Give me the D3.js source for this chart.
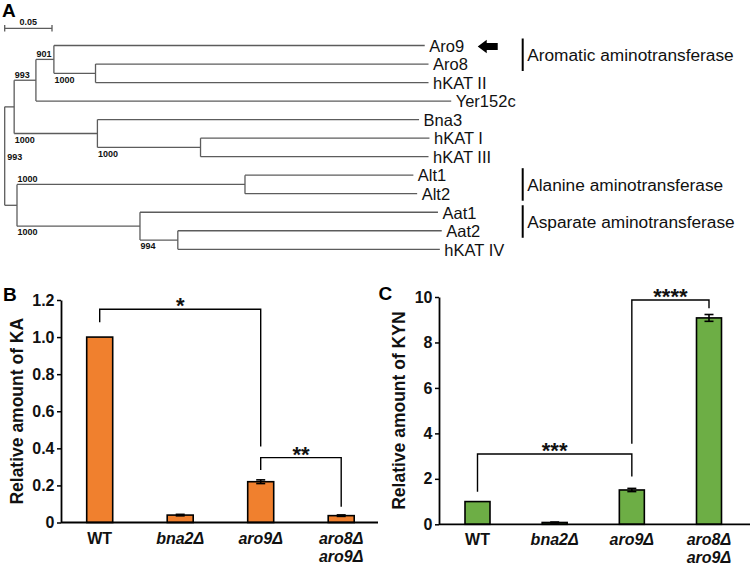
<!DOCTYPE html>
<html><head><meta charset="utf-8">
<script src="https://cdn.jsdelivr.net/npm/d3@7"></script>
<style>
body{margin:0;background:#fff}
svg{display:block}
text{font-family:"Liberation Sans",Arial,Helvetica,sans-serif}
</style>
</head><body>
<svg id="chart" width="750" height="565"></svg>
<script>
// ---------- Panel A: phylogenetic tree ----------
const treeIds     = ['root','n0','n1','n2','Aro9','n3','Aro8','hKAT II','Yer152c','n4','Bna3','n6','hKAT I','hKAT III','n5','n7','Alt1','Alt2','n8','Aat1','n9','Aat2','hKAT IV'];
const treeParents = ['',    'root','n0','n1','n2','n2','n3','n3','n1','n0','n4','n4','n6','n6','root','n5','n7','n7','n5','n8','n8','n9','n9'];
const branchLens  = [0, 0.010, 0.023, 0.019, 0.392, 0.044, 0.352, 0.352, 0.439, 0.088, 0.340, 0.109, 0.242, 0.241, 0.013, 0.241, 0.178, 0.182, 0.130, 0.315, 0.040, 0.279, 0.277];
const bootstraps  = ['993','', '993','901','', '1000','','','', '1000','', '1000','','','', '1000','','', '1000','', '994','',''];
const leafOrder   = ['Aro9','Aro8','hKAT II','Yer152c','Bna3','hKAT I','hKAT III','Alt1','Alt2','Aat1','Aat2','hKAT IV'];
const groupNames  = ['Aromatic aminotransferase','Alanine aminotransferase','Asparate aminotransferase'];
const groupFirst  = ['Aro9','Alt1','Aat1'];
const groupLast   = ['Aro8','Alt2','Aat2'];
const scaleBarLen = 0.05;

// ---------- Panels B & C: bar charts ----------
const strains   = ['WT','bna2Δ','aro9Δ','aro8Δ aro9Δ'];
const kaValues  = [1.0, 0.040, 0.220, 0.037];
const kaErrors  = [0, 0.004, 0.010, 0.004];
const kaTicks   = [0, 0.2, 0.4, 0.6, 0.8, 1.0, 1.2];
const kynValues = [1.0, 0.08, 1.51, 9.08];
const kynErrors = [0, 0.02, 0.07, 0.15];
const kynTicks  = [0, 2, 4, 6, 8, 10];
const kaSigFrom = ['WT','aro9Δ'],   kaSigTo = ['aro9Δ','aro8Δ aro9Δ'],   kaSigLabel = ['*','**'];
const kaSigTop  = [1.15, 0.35],     kaSigLeft = [1.08, 0.283],            kaSigRight = [0.41, 0.085];
const kynSigFrom = ['WT','aro9Δ'],  kynSigTo = ['aro9Δ','aro8Δ aro9Δ'],  kynSigLabel = ['***','****'];
const kynSigTop  = [3.09, 9.87],    kynSigLeft = [1.43, 3.54],            kynSigRight = [2.1, 9.5];

const svg = d3.select('#chart');

// ===== Tree =====
const treeRows = treeIds.map((id,i)=>({id, parent: treeParents[i]||null, len: branchLens[i], boot: bootstraps[i]}));
const root = d3.stratify().id(d=>d.id).parentId(d=>d.parent)(treeRows);
root.eachBefore(n => { n.dist = (n.parent ? n.parent.dist : 0) + n.data.len; });
const xT = d3.scaleLinear().domain([0, 0.5]).range([4.7, 4.7 + 473]);
const yLeaf = d3.scalePoint().domain(leafOrder).range([45.5, 249.3]);
root.eachAfter(n => {
  n.y = n.children ? (n.children[0].y + n.children[n.children.length-1].y)/2 : yLeaf(n.id);
  n.x = xT(n.dist);
});
const tree = svg.append('g');
const lineCol = '#5c5c5c';
tree.selectAll('line.h').data(root.descendants().filter(n=>n.parent)).join('line')
  .attr('x1', n=>n.parent.x).attr('x2', n=>n.x).attr('y1', n=>n.y).attr('y2', n=>n.y)
  .attr('stroke', lineCol).attr('stroke-width', 1.3);
tree.selectAll('line.v').data(root.descendants().filter(n=>n.children)).join('line')
  .attr('x1', n=>n.x).attr('x2', n=>n.x)
  .attr('y1', n=>n.children[0].y).attr('y2', n=>n.children[n.children.length-1].y)
  .attr('stroke', lineCol).attr('stroke-width', 1.3);
tree.selectAll('text.leaf').data(root.leaves()).join('text')
  .attr('x', n=>n.x + 4.5).attr('y', n=>n.y).attr('dy','0.38em')
  .attr('font-size', 16.5).attr('fill','#111').text(n=>n.id);
const bootNodes = root.descendants().filter(n=>n.data.boot);
tree.selectAll('text.boot').data(bootNodes).join('text')
  .attr('x', n => n.parent ? n.parent.x + 0.5 : n.x + 2.6)
  .attr('y', n => {
    if (!n.parent) return n.y + 1;
    const first = n.parent.children[0] === n;
    return first ? n.y - 5.5 : n.y + 6.2;
  })
  .attr('dy','0.35em').attr('font-size', 9).attr('font-weight','bold').attr('fill','#111')
  .text(n=>n.data.boot);
const sb = tree.append('g');
const sbY = 28.3;
sb.append('line').attr('x1', xT(0)).attr('x2', xT(scaleBarLen)).attr('y1', sbY).attr('y2', sbY).attr('stroke', lineCol).attr('stroke-width',1.3);
[0, scaleBarLen].forEach(v => sb.append('line').attr('x1', xT(v)).attr('x2', xT(v)).attr('y1', sbY-3.3).attr('y2', sbY+3.3).attr('stroke', lineCol).attr('stroke-width',1.3));
sb.append('text').attr('x', (xT(0)+xT(scaleBarLen))/2).attr('y', 25).attr('text-anchor','middle')
  .attr('font-size', 9).attr('font-weight','bold').attr('fill','#111').text(String(scaleBarLen));
const aro9 = root.leaves().find(n=>n.id==='Aro9');
const ax = aro9.x + 53, ay = aro9.y + 1;
tree.append('path')
  .attr('d', `M${ax},${ay} L${ax+9},${ay-6.7} L${ax+9},${ay-3.5} L${ax+20},${ay-3.5} L${ax+20},${ay+3.5} L${ax+9},${ay+3.5} L${ax+9},${ay+6.7} Z`)
  .attr('fill','#000');
const gx = 522.7;
groupNames.forEach((g,i)=>{
  const y1 = yLeaf(groupFirst[i]) - 7, y2 = yLeaf(groupLast[i]) + 7;
  tree.append('line').attr('x1',gx).attr('x2',gx).attr('y1',y1).attr('y2',y2).attr('stroke','#000').attr('stroke-width',2);
  tree.append('text').attr('x', gx+4.5).attr('y',(y1+y2)/2).attr('dy','0.36em')
    .attr('font-size',17.3).attr('fill','#111').text(g);
});
svg.append('text').attr('x',2).attr('y',16.7).attr('font-size',19).attr('font-weight','bold').text('A');

// ===== Bar charts =====
function barPanel(opts){
  const g = svg.append('g');
  const {x, y, values, errors, ticks, fmt, color, barW, axisX, axisRight, title, titleX,
         sigFrom, sigTo, sigLabel, sigTop, sigLeft, sigRight, letter, letterX, letterY} = opts;
  g.selectAll('rect.bar').data(strains).join('rect')
    .attr('x', (d)=>x(d)-barW/2).attr('width', barW)
    .attr('y', (d,i)=>y(values[i])).attr('height', (d,i)=>y(0)-y(values[i]))
    .attr('fill', color).attr('stroke','#000').attr('stroke-width',1.6);
  strains.forEach((d,i)=>{
    if (!errors[i]) return;
    const cx = x(d), t = y(values[i]+errors[i]), b = y(values[i]-errors[i]);
    g.append('line').attr('x1',cx).attr('x2',cx).attr('y1',t).attr('y2',b).attr('stroke','#000').attr('stroke-width',1.6);
    [t,b].forEach(yy=>g.append('line').attr('x1',cx-4.5).attr('x2',cx+4.5).attr('y1',yy).attr('y2',yy).attr('stroke','#000').attr('stroke-width',1.6));
  });
  const ax = g.append('g').attr('transform',`translate(${axisX},0)`)
    .call(d3.axisLeft(y).tickValues(ticks).tickFormat(fmt).tickSize(4).tickSizeOuter(0).tickPadding(2.5));
  ax.select('.domain').attr('stroke','#000').attr('stroke-width',1.8);
  ax.selectAll('.tick line').attr('stroke','#000').attr('stroke-width',1.5);
  ax.selectAll('.tick text').attr('font-size',16).attr('font-weight','bold').attr('fill','#111')
    .attr('font-family','"Liberation Sans",Arial,sans-serif');
  g.append('line').attr('x1',axisX).attr('x2',axisRight).attr('y1',y(0)).attr('y2',y(0)).attr('stroke','#000').attr('stroke-width',1.8);
  strains.forEach(d=>{
    const parts = d.split(' ');
    const t = g.append('text').attr('x',x(d)).attr('y',y(0)+21).attr('text-anchor','middle')
      .attr('font-size',16).attr('font-weight','bold').attr('fill','#111')
      .attr('font-style', d==='WT' ? 'normal' : 'italic');
    parts.forEach((p,j)=>t.append('tspan').attr('x',x(d)).attr('dy', j ? 18 : 0).text(p));
  });
  g.append('text').attr('transform',`translate(${titleX},${(y(0)+y(ticks[ticks.length-1]))/2})rotate(-90)`)
    .attr('text-anchor','middle').attr('dy','0.36em').attr('font-size',17.5).attr('font-weight','bold').attr('fill','#111').text(title);
  sigLabel.forEach((lab,i)=>{
    const x1 = x(sigFrom[i]), x2 = x(sigTo[i]), yt = y(sigTop[i]);
    g.append('path').attr('d',`M${x1},${y(sigLeft[i])} V${yt} H${x2} V${y(sigRight[i])}`)
      .attr('fill','none').attr('stroke','#000').attr('stroke-width',1.4);
    g.append('text').attr('x',(x1+x2)/2).attr('y',yt+4).attr('text-anchor','middle')
      .attr('font-size',22).attr('font-weight','bold').attr('fill','#111').text(lab);
  });
  svg.append('text').attr('x',letterX).attr('y',letterY).attr('font-size',19).attr('font-weight','bold').text(letter);
}

barPanel({
  x: d3.scalePoint().domain(strains).range([99.7, 341.2]),
  y: d3.scaleLinear().domain([0,1.2]).range([522.5,300]),
  values: kaValues, errors: kaErrors, ticks: kaTicks,
  fmt: d => d===0 ? '0' : d3.format('.1f')(d),
  color:'#F0802E', barW:26, axisX:61, axisRight:378,
  title:'Relative amount of KA', titleX:17,
  sigFrom:kaSigFrom, sigTo:kaSigTo, sigLabel:kaSigLabel, sigTop:kaSigTop, sigLeft:kaSigLeft, sigRight:kaSigRight,
  letter:'B', letterX:3, letterY:300.7
});
barPanel({
  x: d3.scalePoint().domain(strains).range([477.5, 709]),
  y: d3.scaleLinear().domain([0,10]).range([524.3,297]),
  values: kynValues, errors: kynErrors, ticks: kynTicks,
  fmt: d3.format('d'),
  color:'#6DAE45', barW:25, axisX:439, axisRight:750,
  title:'Relative amount of KYN', titleX:398.3,
  sigFrom:kynSigFrom, sigTo:kynSigTo, sigLabel:kynSigLabel, sigTop:kynSigTop, sigLeft:kynSigLeft, sigRight:kynSigRight,
  letter:'C', letterX:378.5, letterY:300
});
</script>
</body></html>
